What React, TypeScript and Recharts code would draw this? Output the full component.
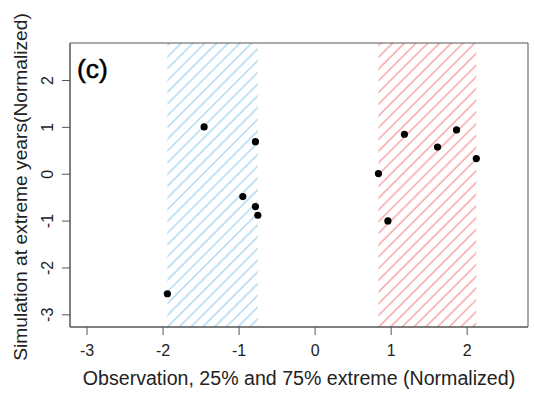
import React from "react";
import { ScatterChart, Scatter, XAxis, YAxis, ReferenceArea, Label } from "recharts";

// observation (x) and simulation (y) at the 25% (low) and 75% (high) extremes
const lowObs = [-1.46, -0.785, -0.951, -0.785, -0.754, -1.943];
const lowSim = [1.01, 0.695, -0.478, -0.69, -0.875, -2.55];
const highObs = [1.175, 1.86, 1.61, 2.12, 0.833, 0.957];
const highSim = [0.853, 0.945, 0.58, 0.333, 0.013, -0.996];

const xTicks = [-3, -2, -1, 0, 1, 2];
const yTicks = [-3, -2, -1, 0, 1, 2];
const xDomain = [-3.224, 2.8];
const yDomain = [-3.26, 2.8];

const lowPoints = lowObs.map((x, i) => ({ x, y: lowSim[i] }));
const highPoints = highObs.map((x, i) => ({ x, y: highSim[i] }));

const FONT = "'Liberation Sans', Arial, Helvetica, sans-serif";
const AXIS = "#555";

const Dot = (props: any) => <circle cx={props.cx} cy={props.cy} r={3.6} fill="#000" />;

const YTick = (props: any) => {
    const { x, y, payload } = props;
    return (
        <text
            transform={`translate(${x - 9.3}, ${y}) rotate(-90)`}
            textAnchor="middle"
            fontSize={16}
            fontFamily={FONT}
            fill="#222"
        >
            {payload.value}
        </text>
    );
};

export default function App() {
    return (
        <div style={{ position: "absolute", left: 0, top: 0, background: "#fff" }}>
            <ScatterChart width={534} height={395} margin={{ top: 43, right: 6, bottom: 8, left: 20 }}>
                <defs>
                    <pattern id="hatchBlue" patternUnits="userSpaceOnUse" width={8.3} height={8.3} patternTransform="rotate(45)">
                        <line x1={1} y1={0} x2={1} y2={8.3} stroke="#a3d5f2" strokeWidth={1.3} />
                    </pattern>
                    <pattern id="hatchRed" patternUnits="userSpaceOnUse" width={8.3} height={8.3} patternTransform="rotate(45)">
                        <line x1={1} y1={0} x2={1} y2={8.3} stroke="#f59a9a" strokeWidth={1.3} />
                    </pattern>
                </defs>
                <XAxis
                    type="number"
                    dataKey="x"
                    domain={xDomain}
                    ticks={xTicks}
                    allowDataOverflow
                    height={60}
                    tickSize={8}
                    tickMargin={10}
                    stroke={AXIS}
                    tick={{ fontSize: 16, fill: "#222", fontFamily: FONT }}
                >
                    <Label
                        content={() => (
                            <text x={299} y={385} textAnchor="middle" fontSize={19.6} fontFamily={FONT} fill="#222">
                                Observation, 25% and 75% extreme (Normalized)
                            </text>
                        )}
                    />
                </XAxis>
                <YAxis
                    type="number"
                    dataKey="y"
                    domain={yDomain}
                    ticks={yTicks}
                    allowDataOverflow
                    width={50}
                    tickSize={8}
                    tickMargin={0}
                    stroke={AXIS}
                    tick={<YTick />}
                >
                    <Label
                        content={() => (
                            <text
                                transform="translate(27, 187) rotate(-90)"
                                textAnchor="middle"
                                fontSize={19.2}
                                fontFamily={FONT}
                                fill="#222"
                            >
                                Simulation at extreme years(Normalized)
                            </text>
                        )}
                    />
                </YAxis>
                <ReferenceArea
                    x1={Math.min(...lowObs)}
                    x2={Math.max(...lowObs)}
                    fill="url(#hatchBlue)"
                    fillOpacity={1}
                    stroke="none"
                />
                <ReferenceArea
                    x1={Math.min(...highObs)}
                    x2={Math.max(...highObs)}
                    fill="url(#hatchRed)"
                    fillOpacity={1}
                    stroke="none"
                />
                <ReferenceArea
                    x1={xDomain[0]}
                    x2={xDomain[1]}
                    y1={yDomain[0]}
                    y2={yDomain[1]}
                    fill="none"
                    stroke={AXIS}
                    strokeWidth={1}
                >
                    <Label
                        content={(p: any) => (
                            <text
                                x={p.viewBox.x + 7}
                                y={p.viewBox.y + 35}
                                fontSize={26.5}
                                fontFamily={FONT}
                                fill="#000"
                                stroke="#000"
                                strokeWidth={0.5}
                            >
                                (c)
                            </text>
                        )}
                    />
                </ReferenceArea>
                <Scatter data={lowPoints} shape={<Dot />} isAnimationActive={false} />
                <Scatter data={highPoints} shape={<Dot />} isAnimationActive={false} />
            </ScatterChart>
        </div>
    );
}
